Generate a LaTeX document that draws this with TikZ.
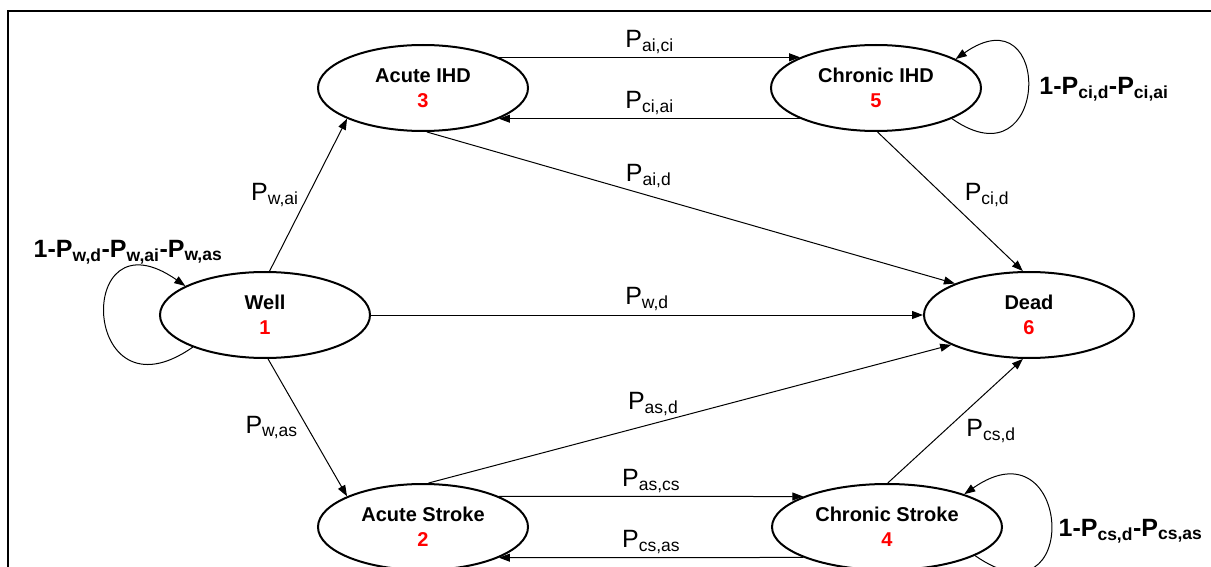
\documentclass[tikz,border=0pt]{standalone}
\usepackage{fontspec}
\setmainfont{Liberation Sans}
\usetikzlibrary{shapes.geometric, arrows.meta}

\newcommand{\pr}[1]{P\textsubscript{#1}}

\begin{document}
\begin{tikzpicture}[
    x=1pt, y=1pt,
    state/.style={ellipse, draw=black, line width=2pt, minimum width=210pt, minimum height=86pt, align=center, font=\fontsize{20}{25}\selectfont\bfseries},
    arrow/.style={-{Triangle[length=11pt, width=8pt]}, line width=1pt},
    prob/.style={font=\fontsize{25}{28}\selectfont},
    looplabel/.style={font=\fontsize{25}{28}\selectfont\bfseries}
]

\useasboundingbox (0,0) rectangle (1211,566);
\clip (0,0) rectangle (1211,566);

% Frame
\draw[line width=2pt] (8,-20) -- (8,555) -- (1230,555);

% States
\node[state] (well) at (265,251) {Well\\\textcolor{red}{1}};
\node[state] (dead) at (1029,251) {Dead\\\textcolor{red}{6}};
\node[state] (ai) at (423,478) {Acute IHD\\\textcolor{red}{3}};
\node[state] (ci) at (876,478) {Chronic IHD\\\textcolor{red}{5}};
\node[state] (as) at (423,39) {Acute Stroke\\\textcolor{red}{2}};
\node[state, minimum width=230pt] (cs) at (887,39) {Chronic Stroke\\\textcolor{red}{4}};

% Transitions from Well
\draw[arrow] (well.84) -- node[prob, left=6pt] {\pr{w,ai}} (ai.202);
\draw[arrow] (well.-86) -- node[prob, left=6pt] {\pr{w,as}} (as.158);
\draw[arrow] (well.east) -- node[prob, above] {\pr{w,d}} (dead.west);

% IHD states
\draw[arrow] (ai.22) -- node[prob, above] {\pr{ai,ci}} (ci.158);
\draw[arrow] (ci.202) -- node[prob, above] {\pr{ci,ai}} (ai.-22);
\draw[arrow] (ai.-85) -- node[prob, pos=0.42, above=4pt] {\pr{ai,d}} (dead.157);
\draw[arrow] (ci.-88) -- node[prob, pos=0.45, right=18pt] {\pr{ci,d}} (dead.98);

% Stroke states
\draw[arrow] (as.22) -- node[prob, above] {\pr{as,cs}} (cs.160);
\draw[arrow] (cs.200) -- node[prob, above] {\pr{cs,as}} (as.-22);
\draw[arrow] (as.83) -- node[prob, pos=0.43, above=4pt] {\pr{as,d}} (dead.201);
\draw[arrow] (cs.89) -- node[prob, pos=0.42, right=18pt] {\pr{cs,d}} (dead.262);

% Self loops
\draw[arrow] (well.204) .. controls +(215:137) and +(145:137) .. (well.160);
\node[looplabel] (wellstay) at (128,314) {1-\pr{w,d}-\pr{w,ai}-\pr{w,as}};
\draw[arrow] (ci.-22) .. controls +(-35:120) and +(35:120) .. node[looplabel, right=8pt] {1-\pr{ci,d}-\pr{ci,ai}} (ci.20);
\draw[arrow] (cs.-18) .. controls +(-35:132) and +(35:132) .. node[looplabel, right=4pt, yshift=-6pt] {1-\pr{cs,d}-\pr{cs,as}} (cs.23);

\end{tikzpicture}
\end{document}
